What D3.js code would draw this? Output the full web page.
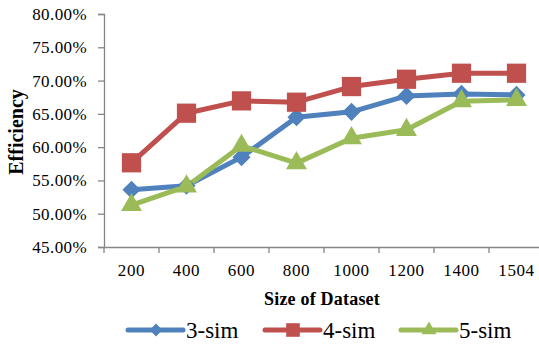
<!DOCTYPE html>
<html>
<head>
<meta charset="utf-8">
<script src="https://cdn.jsdelivr.net/npm/d3@7/dist/d3.min.js"></script>
<style>
  body { margin: 0; background: #fff; }
  svg { display: block; }
</style>
</head>
<body>
<div id="container"></div>
<script>
const sizes = ["200", "400", "600", "800", "1000", "1200", "1400", "1504"];
const sim3 = [53.6, 54.2, 58.5, 64.5, 65.3, 67.7, 68.0, 67.85];
const sim4 = [57.65, 65.1, 66.95, 66.75, 69.1, 70.2, 71.1, 71.1];
const sim5 = [51.3, 54.1, 60.2, 57.6, 61.35, 62.6, 66.9, 67.1];
const yTicks = [45, 50, 55, 60, 65, 70, 75, 80];

const w = 539, h = 347;
const margin = {top: 14, right: -5, bottom: 100, left: 104};
const serif = "Liberation Serif, Tinos, Times New Roman, Times, DejaVu Serif, serif";

const series = [
    {name: "3-sim", values: sim3, color: "#4F81BD", shape: d3.symbolDiamond, size: 95, sx: 1.73},
    {name: "4-sim", values: sim4, color: "#C0504D", shape: d3.symbolSquare, size: 370, sx: 1},
    {name: "5-sim", values: sim5, color: "#9BBB59", shape: d3.symbolTriangle, size: 190, sx: 1}
];

const x = d3.scaleBand()
    .domain(sizes)
    .range([margin.left, w - margin.right]);

const y = d3.scaleLinear()
    .domain([45, 80])
    .range([h - margin.bottom, margin.top]);

let svg = d3.select("#container")
    .append("svg")
    .attr("width", w)
    .attr("height", h)
    .attr("font-family", serif);

// y axis
let yAxis = svg.append("g")
    .attr("transform", "translate(" + margin.left + ",0)")
    .call(d3.axisLeft(y).tickValues(yTicks).tickSize(6).tickFormat((d) => d.toFixed(2) + "%"))
    .attr("font-family", serif);
yAxis.select(".domain").attr("stroke", "#868686").attr("stroke-width", 1.3);
yAxis.selectAll(".tick line").attr("stroke", "#868686").attr("stroke-width", 1.3);
yAxis.selectAll(".tick text")
    .attr("x", -17)
    .attr("fill", "#000")
    .style("font-size", "17px")
    .style("letter-spacing", "0.4px");

// x axis
let xAxis = svg.append("g")
    .attr("transform", "translate(0," + (h - margin.bottom) + ")")
    .call(d3.axisBottom(x).tickSize(0))
    .attr("font-family", serif);
xAxis.select(".domain").attr("stroke", "#868686").attr("stroke-width", 1.3);
xAxis.selectAll(".tick text")
    .attr("y", 17)
    .attr("fill", "#000")
    .style("font-size", "17px")
    .style("letter-spacing", "0.6px");
xAxis.selectAll(".sep")
    .data(sizes)
    .enter()
    .append("line")
    .attr("class", "sep")
    .attr("x1", (d) => x(d))
    .attr("x2", (d) => x(d))
    .attr("y1", 0)
    .attr("y2", 6)
    .attr("stroke", "#868686")
    .attr("stroke-width", 1.3);

// axis titles
svg.append("text")
    .attr("transform", "translate(23,132) rotate(-90)")
    .attr("text-anchor", "middle")
    .style("font-size", "20px")
    .style("font-weight", "bold")
    .text("Efficiency");

svg.append("text")
    .attr("x", 322)
    .attr("y", 305)
    .attr("text-anchor", "middle")
    .style("font-size", "18px")
    .style("font-weight", "bold")
    .style("letter-spacing", "0.2px")
    .text("Size of Dataset");

const line = d3.line()
    .x((d, i) => x(sizes[i]) + x.bandwidth() / 2)
    .y((d) => y(d));

series.forEach((s) => {
    svg.append("path")
        .datum(s.values)
        .attr("d", line)
        .attr("fill", "none")
        .attr("stroke", s.color)
        .attr("stroke-width", 5)
        .attr("stroke-linejoin", "round");
});

series.forEach((s) => {
    svg.selectAll(null)
        .data(s.values)
        .enter()
        .append("path")
        .attr("d", d3.symbol().type(s.shape).size(s.size))
        .attr("transform", (d, i) => "translate(" + (x(sizes[i]) + x.bandwidth() / 2) + "," + y(d) + ") scale(" + s.sx + ",1)")
        .attr("fill", s.color);
});

// legend
const legX = [128, 265, 401];
let legend = svg.append("g").attr("transform", "translate(0,330)");
series.forEach((s, i) => {
    let g = legend.append("g").attr("transform", "translate(" + legX[i] + ",0)");
    g.append("line")
        .attr("x1", 0).attr("x2", 55)
        .attr("stroke", s.color)
        .attr("stroke-width", 5)
        .attr("stroke-linecap", "round");
    g.append("path")
        .attr("d", d3.symbol().type(s.shape).size(s.size * 0.5))
        .attr("transform", "translate(28,0) scale(" + s.sx + ",1)")
        .attr("fill", s.color);
    g.append("text")
        .attr("x", 58)
        .attr("y", 8)
        .style("font-size", "23px")
        .text(s.name);
});
</script>
</body>
</html>
